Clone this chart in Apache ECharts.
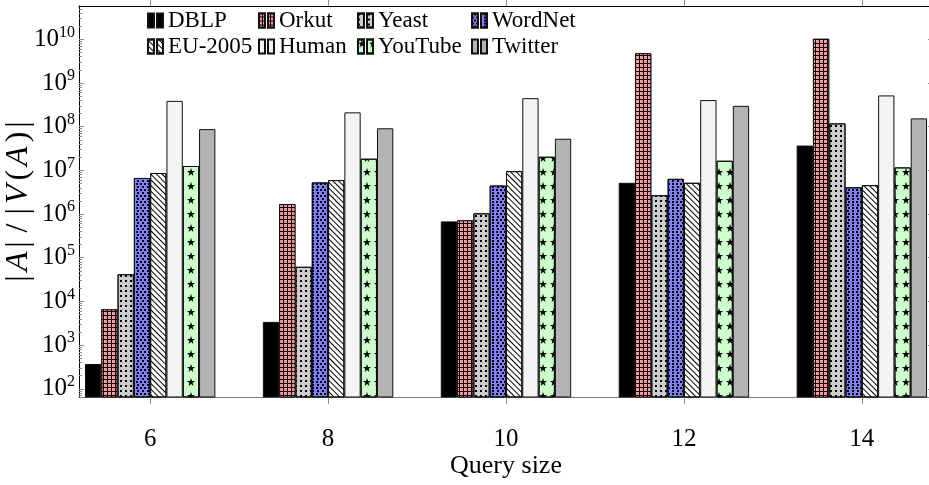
<!DOCTYPE html>
<html>
<head>
<meta charset="utf-8">
<script src="https://cdn.jsdelivr.net/npm/echarts@6/dist/echarts.min.js"></script>
<style>
  html, body { margin: 0; padding: 0; background: #fff; }
  #chart { width: 929px; height: 485px; }
</style>
</head>
<body>
<div id="chart"></div>
<script>
// Query sizes on the x axis
const querySizes = [6, 8, 10, 12, 14];

// |A| / |V(A)| per data graph, one value per query size
const dblp    = [370, 3.4e3, 6.8e5, 5.2e6, 3.7e7];
const orkut   = [6.6e3, 1.7e6, 7.2e5, 4.8e9, 1.03e10];
const yeast   = [4.2e4, 6.2e4, 1.04e6, 2.7e6, 1.19e8];
const wordnet = [6.7e6, 5.3e6, 4.5e6, 6.4e6, 4.1e6];
const eu2005  = [8.7e6, 6.0e6, 9.6e6, 5.2e6, 4.6e6];
const human   = [3.9e8, 2.13e8, 4.5e8, 4.07e8, 5.2e8];
const youtube = [1.26e7, 1.85e7, 2.05e7, 1.66e7, 1.17e7];
const twitter = [8.8e7, 9.2e7, 5.3e7, 3.0e8, 1.55e8];

// Tick values
const xTicks = [6, 8, 10, 12, 14];
const yMajorTicks = [1e2, 1e3, 1e4, 1e5, 1e6, 1e7, 1e8, 1e9, 1e10];

const SERIF = 'Liberation Serif';
const STAR = 'path://M5,0L6.18,3.45L9.76,3.45L6.9,5.59L7.94,9.05L5,6.9L2.06,9.05L3.1,5.59L0.24,3.45L3.82,3.45Z';

// minor log ticks 2..9 x 10^k
const yMinorTicks = [];
for (let k = 1; k <= 10; k++) {
  for (let m = 2; m <= 9; m++) yMinorTicks.push(m * Math.pow(10, k));
}

const yMin = Math.pow(10, 1.812);
const yMax = Math.pow(10, 10.763);
const xMin = 5.2, xMax = 14.8;

const seriesDefs = [
  { name: 'DBLP', values: dblp, style: { color: '#000000' } },
  { name: 'Orkut', values: orkut, style: { color: '#ff9999',
      decal: { symbol: 'rect', symbolSize: 1, color: '#ff9999', backgroundColor: '#000000',
               dashArrayX: [3, 1], dashArrayY: [3, 1] } } },
  { name: 'Yeast', values: yeast, style: { color: '#cccccc',
      decal: { symbol: 'rect', symbolSize: 1, color: '#000000',
               dashArrayX: [1.5, 3], dashArrayY: [1.5, 3] } } },
  { name: 'WordNet', values: wordnet, style: { color: '#8080ff',
      decal: { symbol: 'rect', symbolSize: 1, color: '#000000',
               dashArrayX: [[1.2, 1.8], [0, 1.5, 1.2, 0.3]], dashArrayY: [1.2, 0.3] } } },
  { name: 'EU-2005', values: eu2005, style: { color: '#ffffff',
      decal: { symbol: 'rect', symbolSize: 1, color: '#000000',
               dashArrayX: [1, 0], dashArrayY: [1, 2.6], rotation: Math.PI / 4 } } },
  { name: 'Human', values: human, style: { color: '#f4f4f4' } },
  { name: 'YouTube', values: youtube, style: { color: '#ccffcc',
      decal: { symbol: STAR, symbolSize: 1, symbolKeepAspect: false, color: '#000000',
               dashArrayX: [8, 3], dashArrayY: [8, 6] } } },
  { name: 'Twitter', values: twitter, style: { color: '#b3b3b3' } }
];

const series = seriesDefs.map(d => ({
  name: d.name,
  type: 'bar',
  xAxisIndex: 0,
  yAxisIndex: 0,
  barWidth: 16.3,
  barGap: '0%',
  clip: true,
  silent: true,
  itemStyle: Object.assign({ borderColor: '#111', borderWidth: 1 }, d.style),
  data: querySizes.map((q, i) => [q, d.values[i]])
}));

const legendIcon = 'path://M0,0H6V14H0Z M9,0H15V14H9Z';
const legendCols = [
  { names: ['DBLP', 'EU-2005'], left: 147 },
  { names: ['Orkut', 'Human'], left: 258 },
  { names: ['Yeast', 'YouTube'], left: 357 },
  { names: ['WordNet', 'Twitter'], left: 471 }
];
const legends = legendCols.map(c => ({
  data: c.names,
  left: c.left,
  top: 9,
  orient: 'vertical',
  padding: 0,
  itemGap: 3,
  itemWidth: 15,
  itemHeight: 14,
  icon: legendIcon,
  selectedMode: false,
  textStyle: { fontFamily: SERIF, fontSize: 23, lineHeight: 23, color: '#000' }
}));

const tickColor = '#8c8c8c';

// y axis title |A| / |V(A)|, glyph by glyph so the spacing can be opened up
const yTitleParts = [['t', '|'], ['i', 'A'], ['t', '|'], ['s', '/'], ['t', '|'], ['i', 'V'], ['t', '('], ['i', 'A'], ['t', ')'], ['t', '|']];
const yTitle = yTitleParts.map(p => '{' + p[0] + '|' + p[1] + '}').join('');

function yAxisDef(position, major) {
  const withLabels = position === 'left' && major;
  return {
    type: 'log',
    logBase: 10,
    min: yMin,
    max: yMax,
    position: position,
    axisLine: { show: major, lineStyle: { color: '#000', width: 1 } },
    axisTick: {
      show: true,
      inside: true,
      length: major ? 5 : 3,
      lineStyle: { color: tickColor, width: 1 },
      customValues: major ? yMajorTicks : yMinorTicks
    },
    axisLabel: withLabels ? {
      show: true,
      customValues: yMajorTicks,
      margin: 4,
      formatter: v => '{b|10}{s|' + Math.round(Math.log10(v)) + '}',
      rich: {
        b: { fontFamily: SERIF, fontSize: 25, color: '#000', lineHeight: 30 },
        s: { fontFamily: SERIF, fontSize: 16, color: '#000', verticalAlign: 'top', lineHeight: 30, padding: [0, 0, 12, 0] }
      }
    } : { show: false },
    splitLine: { show: false },
    minorTick: { show: false },
    name: withLabels ? yTitle : '',
    nameLocation: 'middle',
    nameRotate: 90,
    nameGap: 44,
    nameMoveOverlap: false,
    nameTextStyle: {
      rich: {
        t: { fontFamily: SERIF, fontSize: 32, color: '#000', padding: [0, 2, 0, 2] },
        s: { fontFamily: SERIF, fontSize: 32, color: '#000', padding: [0, 7, 0, 7] },
        i: { fontFamily: SERIF, fontSize: 32, fontStyle: 'italic', color: '#000', padding: [0, 2, 0, 2] }
      }
    }
  };
}

const option = {
  animation: false,
  backgroundColor: '#ffffff',
  grid: { left: 79, right: -4, top: 6, bottom: 88, containLabel: false, outerBoundsMode: 'none' },
  legend: legends,
  xAxis: [
    {
      type: 'value',
      min: xMin,
      max: xMax,
      position: 'bottom',
      axisLine: { show: true, onZero: false, lineStyle: { color: '#7a7a7a', width: 1 } },
      axisTick: { show: true, inside: false, length: 7, lineStyle: { color: tickColor }, customValues: xTicks },
      axisLabel: { show: true, customValues: xTicks, margin: 30, fontFamily: SERIF, fontSize: 25, color: '#000' },
      splitLine: { show: false },
      name: 'Query size',
      nameLocation: 'middle',
      nameGap: 56,
      nameMoveOverlap: false,
      nameTextStyle: { fontFamily: SERIF, fontSize: 26, color: '#000' }
    },
    {
      type: 'value',
      min: xMin,
      max: xMax,
      position: 'top',
      axisLine: { show: true, onZero: false, lineStyle: { color: '#000', width: 1.2 } },
      axisTick: { show: true, inside: false, length: 6, lineStyle: { color: tickColor }, customValues: xTicks },
      axisLabel: { show: false },
      splitLine: { show: false }
    }
  ],
  yAxis: [
    yAxisDef('left', true),
    yAxisDef('left', false),
    yAxisDef('right', true),
    yAxisDef('right', false)
  ],
  series: series
};

const chart = echarts.init(document.getElementById('chart'), null, { renderer: 'canvas' });
chart.setOption(option);
</script>
</body>
</html>
